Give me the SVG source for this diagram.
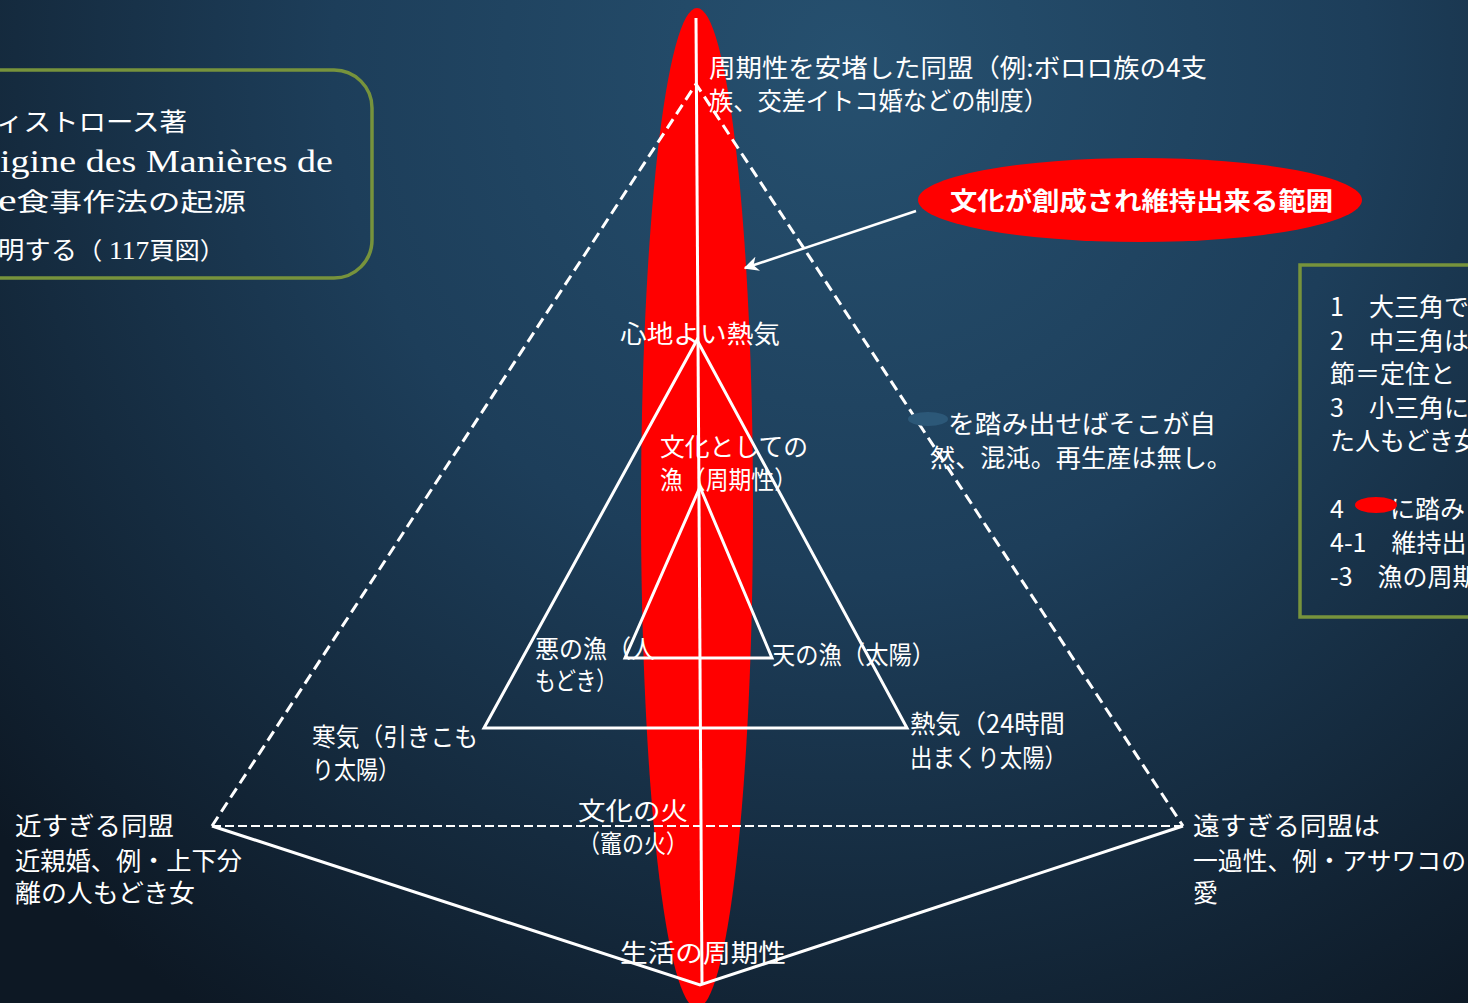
<svg xmlns="http://www.w3.org/2000/svg" width="1468" height="1003" viewBox="0 0 1468 1003">
<defs>
<radialGradient id="bg" cx="850" cy="60" r="1150" gradientUnits="userSpaceOnUse">
<stop offset="0" stop-color="#26506f"/>
<stop offset="0.45" stop-color="#1d3e5a"/>
<stop offset="1" stop-color="#0d1824"/>
</radialGradient>
<marker id="ah" viewBox="0 0 10 10" refX="9" refY="5" markerWidth="6" markerHeight="6" orient="auto" markerUnits="strokeWidth">
<path d="M0,0 L10,5 L0,10 L3,5 z" fill="#fff"/>
</marker>
</defs>
<style>
.t{font-family:"Noto Sans CJK JP","Noto Sans CJK SC",sans-serif;font-size:25px;fill:#fff}
.s{font-family:"Liberation Serif","Noto Sans CJK JP",serif;fill:#fff}
.solid{stroke:#fff;stroke-width:3;fill:none;stroke-linejoin:miter}
.dash{stroke:#fff;stroke-width:3;fill:none;stroke-dasharray:11 6}
.dash2{stroke:#fff;stroke-width:2;fill:none;stroke-dasharray:9 4}
.box{stroke:#77933c;stroke-width:3.5;fill:none}
</style>
<rect width="1468" height="1003" fill="url(#bg)"/>

<g id="range">
<ellipse cx="697" cy="508" rx="56" ry="500" fill="#ff0000"/>
</g>

<g id="connectors">
<line x1="696" y1="18" x2="702" y2="985" class="solid"/>
<polyline points="212,826 696,84 1183,826" class="dash"/>
<line x1="212" y1="826" x2="1183" y2="826" class="dash2"/>
<polyline points="212,826 700,985 1183,826" class="solid"/>
<polygon points="697,340 907,728 484,728" class="solid"/>
<polygon points="700,487 772,658 625,658" class="solid"/>
<line x1="916" y1="211" x2="745" y2="268" stroke="#fff" stroke-width="2.5" marker-end="url(#ah)"/>
</g>

<g id="source-box">
<rect x="-40" y="70" width="412" height="208" rx="38" class="box"/>
<text class="t" x="-4" y="131" font-size="30" textLength="191" lengthAdjust="spacingAndGlyphs">ィストロース著</text>
<text class="s" x="0" y="172" font-size="31" textLength="333" lengthAdjust="spacingAndGlyphs">igine des Manières de</text>
<text class="t" x="-2" y="211" font-size="31" textLength="248" lengthAdjust="spacingAndGlyphs"><tspan class="s" font-size="32">e</tspan>食事作法の起源</text>
<text class="t" x="-2" y="259" font-size="30" textLength="227" lengthAdjust="spacingAndGlyphs">明する<tspan font-size="24">（</tspan><tspan class="s" font-size="26"> 117</tspan><tspan font-size="24">頁図）</tspan></text>
</g>

<g id="top-label">
<text class="t" x="709" y="77" font-size="26" textLength="498" lengthAdjust="spacingAndGlyphs">周期性を安堵した同盟（例:ボロロ族の4支</text>
<text class="t" x="709" y="110" font-size="26" textLength="339" lengthAdjust="spacingAndGlyphs">族、交差イトコ婚などの制度）</text>
</g>

<g id="culture-range">
<ellipse cx="1140" cy="200" rx="222" ry="42" fill="#ff0000"/>
<text class="t" x="950" y="210" font-size="28" font-weight="bold" textLength="383" lengthAdjust="spacingAndGlyphs">文化が創成され維持出来る範囲</text>
</g>

<g id="comfort">
<text class="t" x="620" y="343" textLength="160" lengthAdjust="spacingAndGlyphs">心地よい熱気</text>
</g>
<g id="fishing">
<text class="t" x="660" y="456" textLength="148" lengthAdjust="spacingAndGlyphs">文化としての</text>
<text class="t" x="660" y="489" textLength="137" lengthAdjust="spacingAndGlyphs">漁（周期性）</text>
</g>
<g id="outside">
<ellipse cx="928" cy="419" rx="20" ry="7" fill="#2c5878"/>
<text class="t" x="948" y="433" textLength="268" lengthAdjust="spacingAndGlyphs">を踏み出せばそこが自</text>
<text class="t" x="930" y="467" textLength="302" lengthAdjust="spacingAndGlyphs">然、混沌。再生産は無し。</text>
</g>
<g id="bad-fishing">
<text class="t" x="535" y="658" textLength="120" lengthAdjust="spacingAndGlyphs">悪の漁（人</text>
<text class="t" x="535" y="690" textLength="82" lengthAdjust="spacingAndGlyphs">もどき）</text>
</g>
<g id="sky-fishing">
<text class="t" x="772" y="664" textLength="163" lengthAdjust="spacingAndGlyphs">天の漁（太陽）</text>
</g>
<g id="cold">
<text class="t" x="312" y="746" textLength="166" lengthAdjust="spacingAndGlyphs">寒気（引きこも</text>
<text class="t" x="312" y="779" textLength="88" lengthAdjust="spacingAndGlyphs">り太陽）</text>
</g>
<g id="heat">
<text class="t" x="910" y="733" textLength="155" lengthAdjust="spacingAndGlyphs">熱気（24時間</text>
<text class="t" x="910" y="767" textLength="157" lengthAdjust="spacingAndGlyphs">出まくり太陽）</text>
</g>
<g id="too-close">
<text class="t" x="15" y="835" textLength="159" lengthAdjust="spacingAndGlyphs">近すぎる同盟</text>
<text class="t" x="15" y="870" textLength="227" lengthAdjust="spacingAndGlyphs">近親婚、例・上下分</text>
<text class="t" x="15" y="902" textLength="180" lengthAdjust="spacingAndGlyphs">離の人もどき女</text>
</g>
<g id="too-far">
<text class="t" x="1193" y="835" textLength="187" lengthAdjust="spacingAndGlyphs">遠すぎる同盟は</text>
<text class="t" x="1193" y="870" textLength="273" lengthAdjust="spacingAndGlyphs">一過性、例・アサワコの</text>
<text class="t" x="1193" y="902">愛</text>
</g>
<g id="fire">
<text class="t" x="578" y="820" textLength="110" lengthAdjust="spacingAndGlyphs">文化の火</text>
<text class="t" x="578" y="853" textLength="110" lengthAdjust="spacingAndGlyphs">（竈の火）</text>
</g>
<g id="life">
<text class="t" x="620" y="962" textLength="166" lengthAdjust="spacingAndGlyphs">生活の周期性</text>
</g>

<g id="notes-box">
<rect x="1300" y="265" width="200" height="352" class="box"/>
<text class="t" x="1330" y="316">1　大三角で</text>
<text class="t" x="1330" y="350">2　中三角は</text>
<text class="t" x="1330" y="383">節＝定住と</text>
<text class="t" x="1330" y="417">3　小三角に</text>
<text class="t" x="1330" y="450">た人もどき女</text>
<text class="t" x="1330" y="518">4</text>
<text class="t" x="1390" y="518">に踏み</text>
<ellipse cx="1376" cy="505" rx="21" ry="8" fill="#ff0000"/>
<text class="t" x="1330" y="552">4-1　維持出</text>
<text class="t" x="1330" y="586">-3　漁の周期</text>
</g>
</svg>
